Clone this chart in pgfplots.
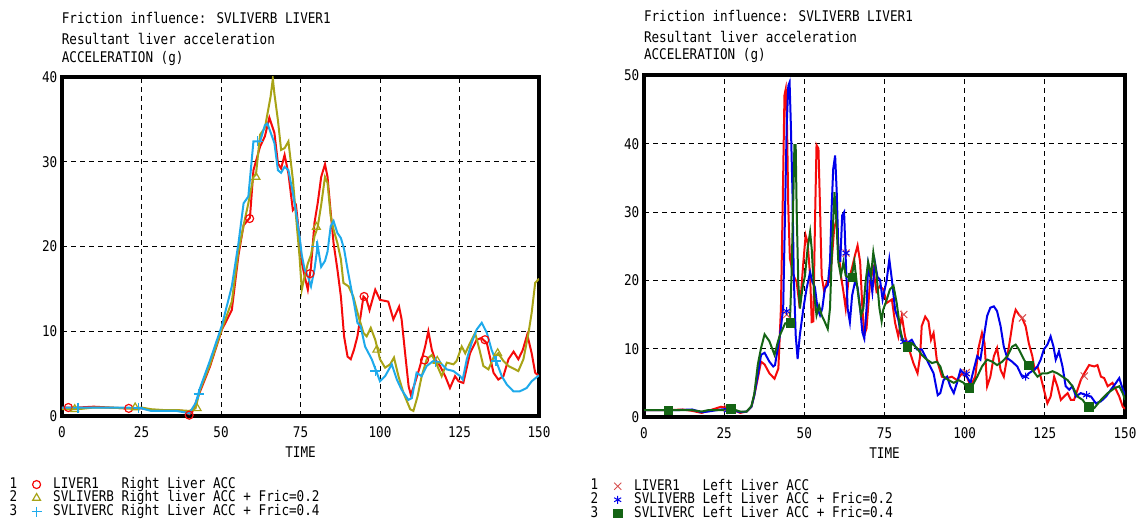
\documentclass[border=0pt]{standalone}
\usepackage{fontspec}
\usepackage{pgfplots}
\pgfplotsset{compat=1.18}
\newfontfamily\monof[FakeStretch=0.86]{DejaVu Sans Mono}
\newcommand\mf{\monof\fontsize{14.7pt}{17pt}\selectfont}
\definecolor{cRed}{RGB}{245,10,10}
\definecolor{cOlive}{RGB}{168,163,22}
\definecolor{cCyan}{RGB}{30,170,235}
\definecolor{cBlue}{RGB}{0,0,235}
\definecolor{cGreen}{RGB}{20,100,20}
\definecolor{cPink}{RGB}{215,80,80}
\pgfplotsset{
  myaxis/.style={
    scale only axis, xmin=0, xmax=150, ymin=0,
    xtick={0,25,...,150},
    axis line style={line width=4pt},
    grid=major,
    major grid style={black, line width=1pt, dash pattern=on 5pt off 4pt},
    major tick length=0pt,
    /pgf/number format/assume math mode=true,
    xticklabel style={font=\mf, inner sep=0pt, yshift=-10.5pt},
    yticklabel style={font=\mf, inner sep=0pt, xshift=-4.5pt},
    xlabel={TIME},
    xlabel style={font=\mf, at={(axis description cs:0.5,0)}, anchor=north, yshift=-30.5pt, inner sep=0pt},
    legend cell align=left,
    legend image code/.code={\path (-6pt,0pt) (16pt,0pt); \draw[##1] plot coordinates {(0pt,0pt)};},
    legend style={at={(axis description cs:0,0)}, anchor=north west, draw=none, fill=none,
      inner sep=0pt, row sep=0pt, font=\mf,
      nodes={inner sep=0pt, text height=10.7pt, text depth=2.8pt}},
    every axis plot/.append style={line width=2pt},
  }
}
\begin{document}
\begin{tikzpicture}
\useasboundingbox (0,0) rectangle (1139pt,521pt);
% ---------------- left chart ----------------
\begin{axis}[myaxis, at={(62pt,105pt)}, anchor=south west, width=477pt, height=339pt,
  ymax=40, ytick={0,10,20,30,40},
  legend style={xshift=-32.2pt, yshift=-61.6pt}]
\addplot[cRed, forget plot] coordinates {
(0,1.0) (5,1.0) (10,1.1) (15,1.0) (20,0.9) (25,0.9) (28,0.7) (32,0.7) (36,0.7) (38,0.6) (40,0.2) (41,0.5) (43,2.5) (46.5,5.8) (50.3,10.2) (53.4,12.5) (55.5,19.0) (57.1,22.5) (59.1,23.4) (60.2,29) (62.3,31.8) (63.8,33) (65.2,35.2) (66.8,33.4) (67.9,29.8) (68.9,29.2) (70,30.8) (71.2,28.6) (72.6,24.3) (73.6,24.8) (74.7,21) (75.4,18.1) (76.3,16.5) (77.3,14.9) (78.3,17.6) (79.4,22.8) (80.4,25.1) (81.5,28.2) (82.7,29.7) (83.5,28.2) (84.5,24) (85.4,20.4) (86.6,17.3) (87.7,14.1) (88.7,9.4) (89.8,7.0) (90.8,6.7) (91.8,7.8) (92.9,9.4) (93.9,11.8) (94.8,14.1) (95.8,13.7) (96.7,12.5) (98.5,14.9) (100,13.7) (102.6,13.5) (104.2,11.4) (106,12.9) (106.8,11.4) (107.9,7.4) (109,3.5) (109.7,2.5) (111,3.9) (112.6,5.9) (114.2,8.2) (115.2,10) (116.3,7.8) (117.3,6.7) (118.9,5.9) (120.5,4.7) (122,3.3) (123.6,4.7) (124.7,4.1) (126.2,3.9) (128.3,7.4) (130.4,9.0) (131.9,9.2) (133.6,8.6) (135.7,5.1) (137.2,4.3) (138.8,4.7) (140.4,6.7) (142,7.6) (143.5,6.7) (144.9,7.8) (146.3,9.6) (147.7,7.4) (148.8,5.1) (150,4.7)};
\addplot[cOlive, forget plot] coordinates {
(0,0.8) (5,0.8) (10,1.0) (15,1.0) (20,0.9) (23,0.9) (25,1.0) (28,0.8) (32,0.7) (36,0.7) (40,0.6) (42,0.9) (43.4,3.1) (46.5,6.0) (50.3,10.3) (53.4,13.5) (55.5,19.5) (57.1,22.5) (58.6,25.1) (60.2,28.2) (61,28.5) (62.3,33.2) (63.8,34) (65.6,37.7) (66.3,39.8) (66.8,38) (67.9,34.9) (68.9,31.4) (70,31.6) (71.2,32.4) (72.6,27.9) (73.6,23.5) (74.7,18.8) (75.4,14.9) (76.3,16.5) (77.3,18) (78.3,19) (79.4,21.2) (80.4,22.3) (81.5,24.9) (82.7,28.2) (83.5,27.5) (84.5,23.6) (85.4,22) (86.6,20.4) (87.7,18.5) (88.5,15.7) (90.1,15.3) (91.6,14.1) (93.2,11.8) (94.8,9.8) (95.8,9.4) (97.1,10.4) (98.5,9.0) (100,6.7) (101.6,5.7) (103.2,6.1) (104.4,6.9) (105.8,4.7) (107.4,2.7) (109.5,0.8) (110.5,0.6) (111.8,2.3) (113.1,4.7) (114.7,6.7) (116.3,7.2) (117.8,6.1) (119.4,4.7) (121,6.3) (123.1,6.1) (124.1,6.5) (125.7,8.2) (126.8,7.4) (128.3,8.6) (129.9,9.8) (131.3,7.8) (132.5,5.9) (134.1,5.5) (135.7,6.9) (137.2,7.4) (138.8,6.5) (140.4,5.9) (143.5,5.3) (145.1,6.7) (146.7,9.8) (147.7,12.2) (148.8,15.7) (150,16.2)};
\addplot[cCyan, forget plot] coordinates {
(0,1.0) (5,1.0) (10,1.0) (15,1.0) (20,1.0) (25,0.9) (28,0.6) (32,0.6) (36,0.6) (39,0.4) (40,0.3) (42,1.5) (43.4,3.3) (46.5,6.5) (50.3,10.7) (53.4,15.3) (55.5,20.4) (57.1,25.1) (58.6,25.9) (60.2,32.4) (62.3,32.4) (63.8,34.3) (64.6,34.5) (66.8,32.2) (67.9,29) (68.9,28.7) (70,29.4) (71.2,29) (72.6,26.3) (73.6,24) (74.7,21.2) (75.4,19) (76.3,17.3) (77.3,16.5) (78.3,15.3) (79.4,17.3) (80.4,20.1) (81.5,17.6) (82.7,18.3) (83.5,19.4) (84.5,22.4) (85.4,23) (86.6,21.6) (87.7,21) (88.7,19.7) (89.8,17.3) (90.8,15.3) (91.8,13.4) (92.9,11) (93.9,10.6) (95.3,8.2) (97.4,6.7) (99,5.1) (100,4.1) (101.6,4.7) (103.7,6.1) (105.3,4.3) (106.8,3.1) (108.9,1.9) (110,2.1) (111.5,5.1) (113.1,4.7) (114.7,5.9) (116.8,6.5) (118.9,6.3) (121,5.5) (123.1,5.3) (125.2,4.7) (126,4.3) (127.3,6.7) (128.8,8.6) (130.4,10.2) (132,11) (133.6,9.8) (135.1,7.8) (136.7,6.3) (138.3,4.7) (139.9,3.7) (142,2.9) (143.9,2.9) (146.1,3.3) (147.7,4.1) (150,4.8)};
\addplot[only marks, cRed, mark=o, mark size=4pt, line width=1.2pt] coordinates {
(2,1.0) (21,0.9) (40,0.1) (59,23.3) (78,16.8) (95,14.1) (114,6.6) (133,9.0)};
\addlegendentry{LIVER1~~~Right Liver ACC}
\addplot[only marks, cOlive, mark=triangle, mark size=4.5pt, line width=1.2pt] coordinates {
(4,0.8) (23,1.0) (42.5,0.9) (61,28.2) (80,22.3) (99,7.8) (118,6.5) (137,7.4)};
\addlegendentry{SVLIVERB Right liver ACC + Fric=0.2}
\addplot[only marks, cCyan, mark=+, mark size=5pt, line width=1.2pt] coordinates {
(5,1.0) (24,1.0) (43,2.6) (61.5,32.4) (80,20) (98.5,5.3) (117.5,6.4) (136.5,6.5)};
\addlegendentry{SVLIVERC Right Liver ACC + Fric=0.4}
\end{axis}
% ---------------- right chart ----------------
\begin{axis}[myaxis, at={(644pt,104pt)}, anchor=south west, width=481pt, height=341.5pt,
  ymax=50, ytick={0,10,20,30,40,50},
  legend style={xshift=-33pt, yshift=-62.3pt}]
\addplot[cRed, forget plot] coordinates {
(0,1.0) (4,1.0) (8,1.0) (12,1.1) (15,0.9) (18,0.6) (20,0.9) (22,1.2) (24,1.5) (26,1.3) (28,1.0) (30,0.6) (32,0.8) (33.5,1.5) (34.4,3.2) (35.5,5.7) (36.5,8.1) (37.6,7.7) (39.1,6.4) (40.7,5.6) (41.9,7.1) (42.7,15.9) (43.4,35.4) (43.8,47.1) (44.2,48) (44.6,42.7) (45,30.5) (45.5,23.2) (46.6,20.7) (47.6,19.8) (48.6,15.9) (49.7,22.7) (50.4,26.6) (51,25.6) (51.8,20.7) (52.3,13.9) (52.8,14) (53.3,28) (53.8,39.8) (54.4,39.3) (54.9,30.5) (55.4,20.7) (56.2,18.3) (57,19.8) (57.7,19.8) (58.5,22.7) (59.3,27.6) (60.1,29) (60.6,24.6) (61.4,20.7) (62.2,18.3) (62.9,15.9) (63.7,19.8) (64.8,21.7) (65.8,23.7) (66.6,25.1) (67.4,22.7) (68.1,15.9) (68.7,12) (69.4,13) (70.5,19.8) (71.5,21.7) (72.5,18.4) (73.6,19.2) (74.6,18.7) (75.7,16.7) (77.3,17.2) (78.3,13.8) (79.3,11.8) (80.4,14.8) (81.4,11.8) (83,9.4) (84,7.9) (85.3,6.4) (86.1,8.9) (86.6,13.3) (87.7,14.7) (88.7,14.0) (89.5,11.3) (90.3,12.3) (91.3,8.4) (92.9,5.9) (94.5,5.7) (96,5.9) (97.6,5.4) (99.2,6.4) (100.7,5.9) (101.8,4.5) (103.3,5.9) (104.4,10.3) (105.4,12.3) (106.2,10.8) (107,4.5) (108,5.9) (109.1,8.9) (110.1,10.1) (111.2,6.9) (112.2,5.9) (113.3,8.9) (114.3,11.8) (115.1,14.3) (115.9,15.7) (116.9,15.0) (117.9,14.5) (119,13.3) (120,10.8) (121.1,8.9) (121.8,6.9) (122.7,7.4) (123.7,5.9) (124.7,4.0) (125.8,2.0) (126.8,3.0) (127.9,5.9) (128.9,4.5) (130,2.5) (131,3.0) (132.1,3.5) (133.1,2.5) (134.1,2.5) (135.2,4.0) (136.2,5.4) (137.3,6.4) (138.8,7.6) (140.4,7.4) (141.4,7.6) (142.5,5.9) (143.5,5.7) (144.6,4.5) (146.1,5.0) (147.2,4.0) (148.2,3.0) (149.3,1.5) (150,1.2)};
\addplot[cBlue, forget plot] coordinates {
(0,1.0) (5,1.0) (10,1.0) (15,1.1) (18,0.7) (20,0.8) (24,1.1) (27,1.1) (30,0.7) (32,0.8) (33.5,1.5) (34.4,3.2) (35.5,6.2) (36.5,9.1) (37.6,9.4) (39.1,8.1) (40.3,7.4) (40.85,7.6) (42.4,12) (43.4,15.9) (44,30.5) (44.5,42.7) (45,48.5) (45.4,49) (45.8,42.7) (46.3,32.9) (46.7,20.7) (47.3,12) (47.9,8.5) (48.6,12) (49.7,15.9) (50.7,18.8) (51.8,21.2) (52.5,19.8) (53.3,19) (54.1,15.9) (54.9,14.9) (55.6,15.9) (56.4,18.8) (57.3,19.3) (58,22.7) (58.5,30.5) (59,36.3) (59.6,38.3) (60.1,32.9) (60.6,24.6) (61.2,22.7) (61.8,29.5) (62.4,30) (62.9,23.2) (63.5,15.9) (64.2,13.9) (64.9,17.8) (65.8,19.8) (66.6,19) (67.4,15.9) (68.1,12.4) (68.7,11.5) (69.4,15.9) (69.9,22.2) (70.5,20.7) (71.2,18.3) (72,22.7) (72.8,20.5) (73.6,20.1) (74.4,17.2) (75.7,20.1) (76.5,23.1) (77.3,20.1) (78.3,15.7) (79.3,14.3) (80.4,11.3) (81.9,10.8) (83.5,11.3) (85.1,9.9) (86.6,9.9) (87.7,8.9) (88.7,7.9) (90.3,6.4) (91.6,3.2) (92.4,3.5) (93.4,5.4) (94.5,5.9) (95.5,4.5) (96.6,3.5) (97.6,5.0) (98.7,6.9) (99.7,6.4) (100.7,5.9) (101.8,5.0) (102.8,6.9) (103.9,8.9) (104.9,8.4) (106,11.8) (107,14.8) (108,16.0) (109.1,16.2) (110.1,15.5) (111.2,13.3) (112.2,10.3) (113.3,8.6) (114.8,8.1) (116.4,7.4) (117.9,5.9) (119,5.9) (120,6.4) (121.6,6.9) (122.7,7.4) (123.7,8.4) (124.7,9.9) (125.8,10.6) (126.8,11.8) (127.7,10.3) (128.4,8.4) (129.4,9.6) (130.5,7.4) (131.5,4.5) (132.6,4.0) (133.6,4.5) (134.7,3.0) (136.2,3.5) (137.8,3.2) (139.4,3.0) (140.9,2.0) (142.5,2.3) (144.1,3.0) (145.6,4.0) (147.2,5.0) (148.2,5.7) (149,4.5) (150,3.2)};
\addplot[cGreen, forget plot] coordinates {
(0,1.0) (5,1.0) (10,1.0) (15,1.0) (18,0.8) (20,1.0) (25,1.0) (28,1.1) (30,0.8) (32,0.8) (33.5,1.6) (34.4,3.4) (35.5,7.7) (36.5,10.1) (37.6,12.1) (39.1,11.1) (40.7,9.1) (41.8,11.1) (42.4,12) (44,13.7) (45.5,13.9) (46,20.7) (46.6,32.9) (46.9,39.8) (47.3,39.8) (47.6,30.5) (48.1,19.8) (48.6,15.9) (49.4,18.8) (50.2,20.7) (51,24.6) (51.8,27.1) (52.3,24.6) (53.1,17.8) (53.8,14.9) (54.6,16.3) (55.4,14.9) (56.4,13.9) (57.3,12.9) (58,15.9) (58.7,25.6) (59.4,32.9) (59.9,29.5) (60.6,22.7) (61.4,20.7) (62.2,22.7) (62.9,20.7) (63.8,20.4) (64.8,20.7) (65.6,22.7) (66.3,19.8) (67.1,16.8) (67.7,14.9) (68.4,15.9) (69.1,19.8) (69.9,22.7) (70.8,20.7) (71.5,24.1) (72.5,20.9) (73.4,16) (74.1,14) (74.6,15.7) (75.7,17.2) (76.7,18.7) (77.8,19.2) (78.8,16.7) (79.9,12.8) (80.9,10.8) (81.9,10.3) (83.5,10.8) (85.1,10.1) (86.6,9.1) (88.2,8.4) (89.8,7.9) (91.3,8.1) (92.4,7.4) (93.4,5.9) (95,5.4) (96.6,5.0) (98.1,5.4) (99.7,5.0) (100.7,4.2) (102.3,4.5) (103.9,5.9) (105.4,7.4) (107,8.4) (108.6,8.1) (110.1,7.6) (111.7,8.1) (113.3,8.9) (114.8,10.3) (115.9,10.6) (116.9,9.9) (118.5,8.4) (119.5,7.6) (121.1,6.9) (122.7,5.9) (124.2,6.4) (125.8,6.4) (127.4,6.7) (128.9,6.4) (130.5,5.9) (132.1,5.4) (133.6,4.5) (135.2,3.0) (136.8,2.5) (138.3,1.5) (140.4,1.3) (142.5,2.5) (144.6,3.5) (146.7,4.2) (148.2,4.5) (149.3,3.5) (150,2.5)};
\addplot[only marks, cPink, mark=x, mark size=5pt, line width=1pt] coordinates {
(7.5,1.0) (26,1.3) (44.5,15) (63,24) (81,15) (100.5,6.5) (118,14.5) (137.3,6.0)};
\addlegendentry{LIVER1~~~Left Liver ACC}
\addplot[only marks, cBlue, mark=asterisk, mark size=4pt, line width=1pt] coordinates {
(7.5,1.0) (26,1.0) (44.5,15.5) (63,24) (81,11) (100.5,6.3) (119,5.9) (138,3.2)};
\addlegendentry{SVLIVERB Left Liver ACC + Fric=0.2}
\addplot[only marks, cGreen, mark=square*, mark size=4.2pt, line width=0.5pt] coordinates {
(7.5,1.0) (27,1.2) (45.6,13.8) (65,20.5) (82,10.3) (101.5,4.3) (120,7.6) (138.7,1.5)};
\addlegendentry{SVLIVERC Left Liver ACC + Fric=0.4}
\end{axis}
% ---------------- titles ----------------
\begin{scope}[every node/.style={font=\mf, inner sep=0pt}]
\node[anchor=base west] at (61.6pt,497pt) {Friction influence: SVLIVERB LIVER1};
\node[anchor=base west] at (61.6pt,476.7pt) {Resultant liver acceleration};
\node[anchor=base west] at (61.6pt,458.7pt) {ACCELERATION (g)};
\node[anchor=base west] at (643.8pt,499.3pt) {Friction influence: SVLIVERB LIVER1};
\node[anchor=base west] at (643.8pt,478.7pt) {Resultant liver acceleration};
\node[anchor=base west] at (643.8pt,461pt) {ACCELERATION (g)};
\node[anchor=base] at (13.5pt,32.7pt) {1};
\node[anchor=base] at (13.5pt,19.3pt) {2};
\node[anchor=base] at (13.5pt,5.7pt) {3};
\node[anchor=base] at (594.5pt,31pt) {1};
\node[anchor=base] at (594.5pt,17.7pt) {2};
\node[anchor=base] at (594.5pt,3.7pt) {3};
\end{scope}
\end{tikzpicture}
\end{document}
